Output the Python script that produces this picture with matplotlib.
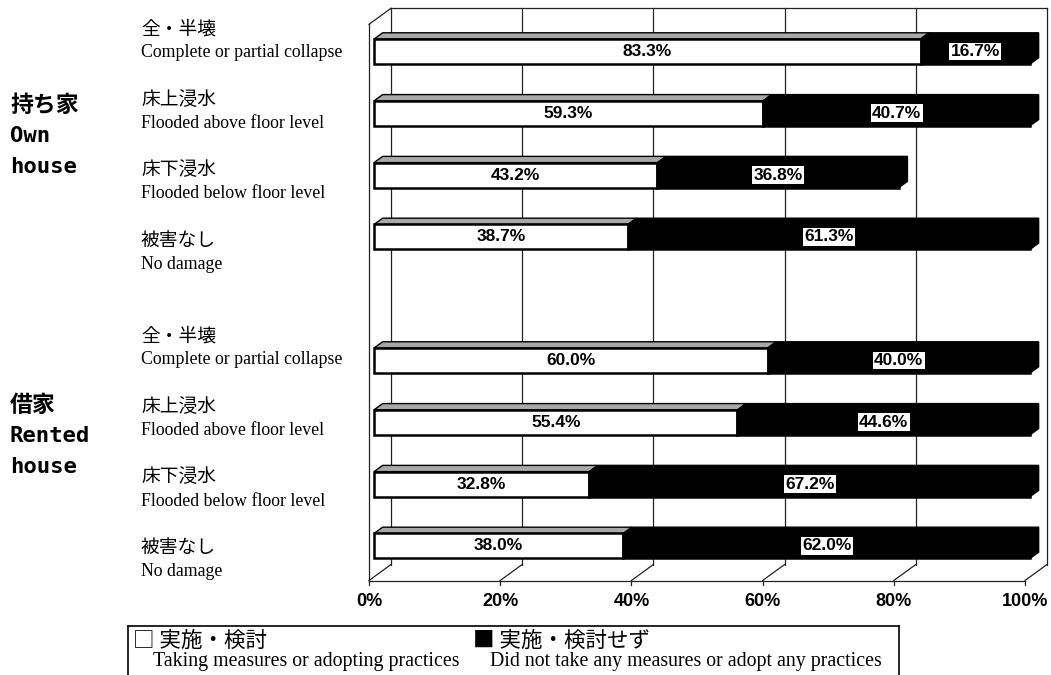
import matplotlib
matplotlib.use("Agg")
import matplotlib.pyplot as plt
from matplotlib.patches import Polygon

# 対策の実施状況（被害程度別・住宅形態別）
groups_jp = ["持ち家", "借家"]
groups_en = [["Own", "house"], ["Rented", "house"]]
cats_jp = ["全・半壊", "床上浸水", "床下浸水", "被害なし"]
cats_en = ["Complete or partial collapse", "Flooded above floor level",
           "Flooded below floor level", "No damage"]
own_yes = [83.3, 59.3, 43.2, 38.7]
own_no = [16.7, 40.7, 36.8, 61.3]
rent_yes = [60.0, 55.4, 32.8, 38.0]
rent_no = [40.0, 44.6, 67.2, 62.0]
ticks = [0, 20, 40, 60, 80, 100]
legend_jp = ["実施・検討", "実施・検討せず"]
legend_en = ["Taking measures or adopting practices",
             "Did not take any measures or adopt any practices"]

JP = ["Noto Sans CJK JP", "DejaVu Sans"]
SERIF = "Liberation Serif"
SANS = "Liberation Sans"

W, H = 1051, 675
S = 6.56          # px per percent
P = 61.8          # px per bar slot
X0, Y0 = 369, 55.2
DX, DY = 22 / S, -16 / P   # depth direction of the 3-D box
D0, D1 = 0.23, 0.62        # bar depth range
HB = 12.5 / P              # half bar height

fig = plt.figure(figsize=(W / 100, H / 100), dpi=100)
ax = fig.add_axes([0, 0, 1, 1])
ax.set_xlim(-X0 / S, (W - X0) / S)
ax.set_ylim((H - Y0) / P, -Y0 / P)
ax.axis("off")


def fx(px):
    return (px - X0) / S


def fy(py):
    return (py - Y0) / P


def pt(x, y, d):
    return (x + d * DX, y + d * DY)


# 3-D frame: back wall, left wall and floor
top, bot = -0.5, 8.5
lk = dict(color="#222222", lw=0.9, zorder=1)
for t in ticks:
    xs, ys = zip(pt(t, top, 1), pt(t, bot, 1))
    ax.plot(xs, ys, **lk)
    xs, ys = zip(pt(t, bot, 0), pt(t, bot, 1))
    ax.plot(xs, ys, **lk)
    ax.plot([t, t], [bot, bot + 4 / P], **lk)
    ax.text(t, fy(602), f"{t}%", ha="center", va="center",
            fontsize=13, fontweight="bold", family=SANS)
xs, ys = zip(pt(0, top, 1), pt(100, top, 1))
ax.plot(xs, ys, **lk)
ax.plot([0, 100], [bot, bot], **lk)
ax.plot([0, 0], [top, bot], **lk)
xs, ys = zip(pt(0, top, 0), pt(0, top, 1))
ax.plot(xs, ys, **lk)


def bar_segment(x0, x1, k, face, topc, end=False):
    y0, y1 = k - HB, k + HB
    front = [pt(x0, y0, D0), pt(x1, y0, D0), pt(x1, y1, D0), pt(x0, y1, D0)]
    upper = [pt(x0, y0, D0), pt(x1, y0, D0), pt(x1, y0, D1), pt(x0, y0, D1)]
    ax.add_patch(Polygon(upper, closed=True, fc=topc, ec="black", lw=1.0, zorder=3))
    if end:
        side = [pt(x1, y0, D0), pt(x1, y0, D1), pt(x1, y1, D1), pt(x1, y1, D0)]
        ax.add_patch(Polygon(side, closed=True, fc=face, ec="black", lw=1.0, zorder=3))
    ax.add_patch(Polygon(front, closed=True, fc=face, ec="black", lw=1.8, zorder=4))


slots = [[0, 1, 2, 3], [5, 6, 7, 8]]
for yes, no, ks in [(own_yes, own_no, slots[0]), (rent_yes, rent_no, slots[1])]:
    for a, b, k in zip(yes, no, ks):
        bar_segment(0, a, k, "white", "#a8a8a8")
        bar_segment(a, a + b, k, "black", "black", end=True)
        cy = k + D0 * DY
        ax.text(a / 2 + D0 * DX, cy, f"{a:.1f}%", ha="center", va="center",
                fontsize=12.5, fontweight="bold", family=SANS, zorder=6)
        ax.text(a + b / 2 + D0 * DX, cy, f"{b:.1f}%", ha="center", va="center",
                fontsize=12.5, fontweight="bold", family=SANS, zorder=6,
                bbox=dict(fc="white", ec="none", pad=1.0))

# category labels
for base in (29, 336):
    for i, (jp, en) in enumerate(zip(cats_jp, cats_en)):
        py = base + 70.5 * i
        ax.text(fx(141), fy(py), jp, ha="left", va="center", fontsize=13.5, family=JP)
        ax.text(fx(141), fy(py + 24), en, ha="left", va="center", fontsize=12.8, family=SERIF)

# group labels
for gy, jp, en in zip((105, 405), groups_jp, groups_en):
    ax.text(fx(10), fy(gy), jp, ha="left", va="center", fontsize=16.5,
            fontweight="bold", family=JP)
    for j, word in enumerate(en):
        ax.text(fx(10), fy(gy + 31 * (j + 1)), word, ha="left", va="center",
                fontsize=16, fontweight="bold", family="DejaVu Sans Mono")

# legend box
lb = dict(color="black", lw=1.2)
ax.plot([fx(128), fx(899)], [fy(626), fy(626)], **lb)
ax.plot([fx(128), fx(128)], [fy(626), fy(676)], **lb)
ax.plot([fx(899), fx(899)], [fy(626), fy(676)], **lb)
ax.text(fx(133), fy(641), "□ " + legend_jp[0], ha="left", va="center",
        fontsize=15.5, family=JP)
ax.text(fx(153), fy(662), legend_en[0], ha="left", va="center",
        fontsize=14.3, family=SERIF)
ax.text(fx(473), fy(641), "■ " + legend_jp[1], ha="left", va="center",
        fontsize=15.5, family=JP)
ax.text(fx(490), fy(662), legend_en[1], ha="left", va="center",
        fontsize=14.3, family=SERIF)

fig.savefig("out.png", dpi=100)
